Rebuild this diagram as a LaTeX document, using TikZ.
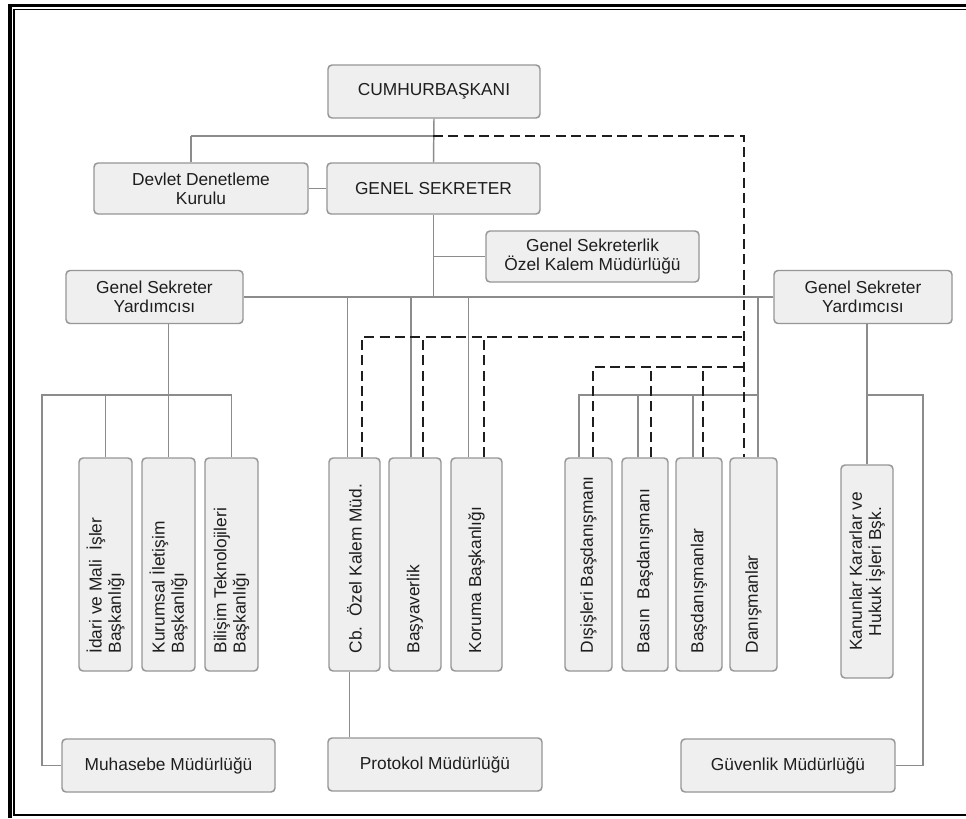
\documentclass[tikz,border=0pt]{standalone}
\usepackage{fontspec}
\setmainfont{Liberation Sans}
\usetikzlibrary{calc}
\definecolor{boxfill}{HTML}{EFEFEF}
\definecolor{boxline}{HTML}{969696}
\definecolor{linkgray}{HTML}{8C8C8C}
\definecolor{ink}{HTML}{1E1E1E}
\begin{document}
\begin{tikzpicture}[x=0.75pt,y=-0.75pt,
  labelfont/.style={font=\fontsize{13}{14.5}\selectfont},
  box/.style={draw=boxline, fill=boxfill, line width=1.1pt, rounded corners=3pt,
    inner sep=0pt, text=ink, labelfont, align=center},
  wh/.style 2 args={minimum width=#1*0.75pt, minimum height=#2*0.75pt},
  vtext/.style={rotate=90, anchor=west, inner sep=0pt, text=ink, labelfont, align=left},
  conn/.style={draw=linkgray, line width=1.1pt},
  dline/.style={draw=ink, line width=1.3pt, dash pattern=on 7.5pt off 4pt},
  thickrule/.style={draw=black, line width=3pt},
  thinrule/.style={draw=black, line width=1.2pt}
]
\useasboundingbox (0,0) rectangle (966,818);
\fill[white] (0,0) rectangle (966,818);

% page frame
\draw[thickrule] (10,818) -- (10,4);
\draw[draw=black, line width=2.25pt] (8,5.5) -- (966,5.5);
\draw[thinrule] (966,9.5) -- (14,9.5) -- (14,815) -- (966,815);

% top level
\node[box, wh={212}{53}] (cb) at (434,91.5) {CUMHURBAŞKANI};
\node[box, wh={214}{51}] (ddk) at (201,188.5) {Devlet Denetleme\\Kurulu};
\node[box, wh={213}{51}] (gs) at (433.5,188.5) {GENEL SEKRETER};
\node[box, wh={213}{51}] (gsok) at (592.5,256.5) {Genel Sekreterlik\\Özel Kalem Müdürlüğü};
\node[box, wh={177}{53}] (gsyL) at (154.5,297) {Genel Sekreter\\Yardımcısı};
\node[box, wh={178}{53}] (gsyR) at (863,297) {Genel Sekreter\\Yardımcısı};

% vertical units
\node[box, wh={53}{213}] (idari) at (105.5,564.5) {};
\node[box, wh={53}{213}] (kurum) at (168.5,564.5) {};
\node[box, wh={53}{213}] (bilisim) at (231.5,564.5) {};
\node[box, wh={51}{213}] (cbok) at (354.5,564.5) {};
\node[box, wh={52}{213}] (basyav) at (415,564.5) {};
\node[box, wh={51}{213}] (koruma) at (476.5,564.5) {};
\node[box, wh={47}{213}] (disis) at (588.5,564.5) {};
\node[box, wh={46}{213}] (basin) at (645,564.5) {};
\node[box, wh={46}{213}] (basdan) at (699,564.5) {};
\node[box, wh={47}{213}] (danis) at (753.5,564.5) {};
\node[box, wh={52}{213}] (kanun) at (867,571.5) {};

\node[vtext] (tidari) at ([yshift=13.5pt]idari.south) {İdari ve Mali\ \ İşler\\Başkanlığı};
\node[vtext] (tkurum) at ([yshift=13.5pt]kurum.south) {Kurumsal İletişim\\Başkanlığı};
\node[vtext] (tbilisim) at ([yshift=13.5pt]bilisim.south) {Bilişim Teknolojileri\\Başkanlığı};
\node[vtext] (tcbok) at ([yshift=13.5pt]cbok.south) {Cb.\ \ Özel Kalem Müd.};
\node[vtext] (tbasyav) at ([yshift=13.5pt]basyav.south) {Başyaverlik};
\node[vtext] (tkoruma) at ([yshift=13.5pt]koruma.south) {Koruma Başkanlığı};
\node[vtext] (tdisis) at ([yshift=13.5pt]disis.south) {Dışişleri Başdanışmanı};
\node[vtext] (tbasin) at ([yshift=13.5pt]basin.south) {Basın\ \ Başdanışmanı};
\node[vtext] (tbasdan) at ([yshift=13.5pt]basdan.south) {Başdanışmanlar};
\node[vtext] (tdanis) at ([yshift=13.5pt]danis.south) {Danışmanlar};
\node[vtext, anchor=center, align=center] (tkanun) at (kanun.center) {Kanunlar Kararlar ve\\Hukuk İşleri Bşk.};

% bottom offices
\node[box, wh={213}{53}] (muh) at (168.5,765.5) {Muhasebe Müdürlüğü};
\node[box, wh={214}{53}] (prot) at (435,764.5) {Protokol Müdürlüğü};
\node[box, wh={214}{53}] (guv) at (788,765.5) {Güvenlik Müdürlüğü};

% junction points
\coordinate (jtop) at (433,136);
\coordinate (jddk) at (191,136);
\coordinate (dv) at (744,136);
\coordinate (dyA) at (0,337);
\coordinate (dyB) at (0,367);
\coordinate (jL) at (42,395);
\coordinate (rv) at (758,395);
\coordinate (jR) at (923,395);

% solid reporting lines
\draw[conn] (cb.south) -- (gs.north);
\draw[conn] (jddk) -- (jtop);
\draw[conn] (jddk) -- (jddk |- ddk.north);
\draw[conn] (ddk.east) -- (gs.west);
\draw[conn] (gs.south) -- (gs.south |- gsyL.east);
\draw[conn] (gs.south |- gsok.west) -- (gsok.west);
\draw[conn] (gsyL.east) -- (gsyR.west);

\draw[conn] (kurum.north |- gsyL.south) -- (kurum.north);
\draw[conn] (muh.west) -| (jL) -- (jL -| bilisim.north) -- (bilisim.north);
\draw[conn] (jL -| idari.north) -- (idari.north);

\draw[conn] ($(cbok.north)+(-7,0)$) coordinate (s1) -- (s1 |- gsyL.east);
\draw[conn] ($(basyav.north)+(-4,0)$) coordinate (s2) -- (s2 |- gsyL.east);
\draw[conn] ($(koruma.north)+(-8,0)$) coordinate (s3) -- (s3 |- gsyL.east);
\draw[conn] ($(cbok.south)+(-5,0)$) coordinate (p1) -- (p1 |- prot.north);

\draw[conn] (rv |- gsyR.west) -- (rv |- danis.north);
\draw[conn] ($(disis.north)+(-9.5,0)$) coordinate (r1) -- (r1 |- rv) -- (rv);
\draw[conn] ($(basin.north)+(-7,0)$) coordinate (r2) -- (r2 |- rv);
\draw[conn] ($(basdan.north)+(-6,0)$) coordinate (r3) -- (r3 |- rv);

\draw[conn] (kanun.north |- gsyR.south) -- (kanun.north);
\draw[conn] (kanun.north |- jR) -- (jR) -- (jR |- guv.east) -- (guv.east);

% dashed advisory lines
\draw[dline] (jtop) -- (dv) -- (dv |- danis.north);
\draw[dline] ($(cbok.north)+(7.5,0)$) coordinate (d1) -- (d1 |- dyA) -- (dv |- dyA);
\draw[dline] ($(basyav.north)+(8,0)$) coordinate (d2) -- (d2 |- dyA);
\draw[dline] ($(koruma.north)+(7.5,0)$) coordinate (d3) -- (d3 |- dyA);
\draw[dline] ($(disis.north)+(4.5,0)$) coordinate (e1) -- (e1 |- dyB) -- (dv |- dyB);
\draw[dline] ($(basin.north)+(6,0)$) coordinate (e2) -- (e2 |- dyB);
\draw[dline] ($(basdan.north)+(4,0)$) coordinate (e3) -- (e3 |- dyB);
\end{tikzpicture}
\end{document}
